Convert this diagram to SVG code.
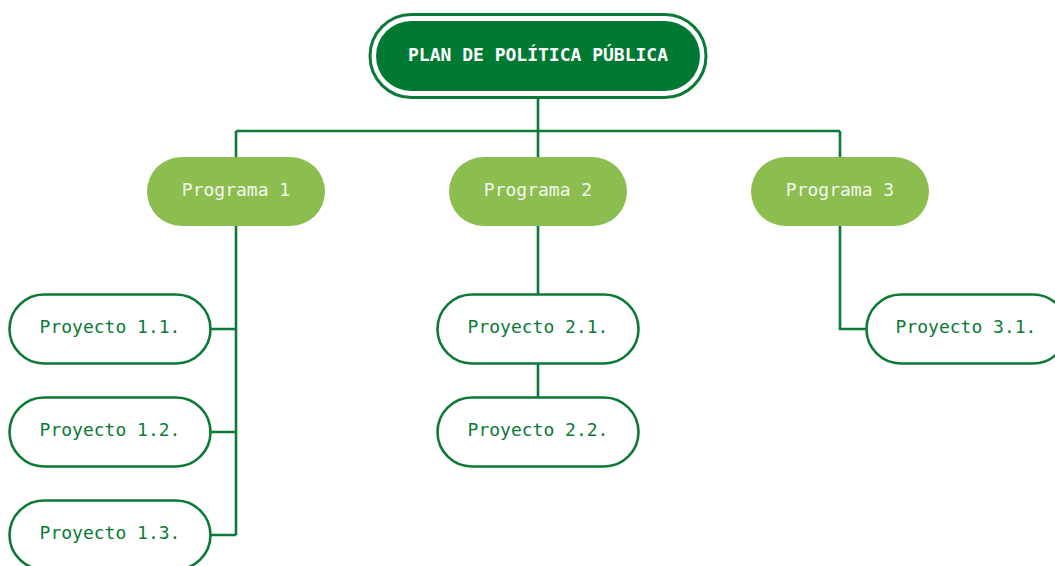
<svg xmlns="http://www.w3.org/2000/svg" width="1055" height="566" viewBox="0 0 1055 566">
  <style>
    .lbl { font-family: "DejaVu Sans Mono", "Liberation Mono", monospace; font-size: 18px; text-anchor: middle; }
    .title { fill: #ffffff; font-weight: bold; }
    .prog-box { fill: #8bbd4f; }
    .prog-txt { fill: #f4f8ee; }
    .proj-box { fill: #ffffff; stroke: #0b7a36; stroke-width: 2.6; }
    .proj-txt { fill: #0b7a36; }
    .wire { fill: none; stroke: #0b7a36; stroke-width: 2.6; }
  </style>
  <rect width="1055" height="566" fill="#ffffff"/>

  <!-- connectors -->
  <g id="connectors">
    <path class="wire" d="M538 97 V131 M236 131 H840 M236 131 V157 M538 131 V157 M840 131 V157"/>
    <path class="wire" d="M236 226 V535 M211 329 H236 M211 432 H236 M211 535 H236"/>
    <path class="wire" d="M538 226 V294 M538 364 V397"/>
    <path class="wire" d="M840 226 V329 H866"/>
  </g>

  <!-- root -->
  <g id="plan">
    <rect x="370" y="14.5" width="336" height="83" rx="41.5" fill="#ffffff" stroke="#0b7a36" stroke-width="3"/>
    <rect x="376" y="21" width="324" height="70" rx="35" fill="#007a33"/>
    <text class="lbl title" x="538" y="61">PLAN DE POLÍTICA PÚBLICA</text>
  </g>

  <!-- programs -->
  <g id="programa-1">
    <rect class="prog-box" x="147" y="157" width="178" height="69" rx="34.5"/>
    <text class="lbl prog-txt" x="236" y="196">Programa 1</text>
  </g>
  <g id="programa-2">
    <rect class="prog-box" x="449" y="157" width="178" height="69" rx="34.5"/>
    <text class="lbl prog-txt" x="538" y="196">Programa 2</text>
  </g>
  <g id="programa-3">
    <rect class="prog-box" x="751" y="157" width="178" height="69" rx="34.5"/>
    <text class="lbl prog-txt" x="840" y="196">Programa 3</text>
  </g>

  <!-- projects -->
  <g id="proyecto-1-1">
    <rect class="proj-box" x="9.5" y="294.5" width="201" height="69" rx="34.5"/>
    <text class="lbl proj-txt" x="110" y="333">Proyecto 1.1.</text>
  </g>
  <g id="proyecto-1-2">
    <rect class="proj-box" x="9.5" y="397.5" width="201" height="69" rx="34.5"/>
    <text class="lbl proj-txt" x="110" y="436">Proyecto 1.2.</text>
  </g>
  <g id="proyecto-1-3">
    <rect class="proj-box" x="9.5" y="500.5" width="201" height="69" rx="34.5"/>
    <text class="lbl proj-txt" x="110" y="539">Proyecto 1.3.</text>
  </g>
  <g id="proyecto-2-1">
    <rect class="proj-box" x="437.5" y="294.5" width="201" height="69" rx="34.5"/>
    <text class="lbl proj-txt" x="538" y="333">Proyecto 2.1.</text>
  </g>
  <g id="proyecto-2-2">
    <rect class="proj-box" x="437.5" y="397.5" width="201" height="69" rx="34.5"/>
    <text class="lbl proj-txt" x="538" y="436">Proyecto 2.2.</text>
  </g>
  <g id="proyecto-3-1">
    <rect class="proj-box" x="866.5" y="294.5" width="201" height="69" rx="34.5"/>
    <text class="lbl proj-txt" x="966" y="333">Proyecto 3.1.</text>
  </g>
</svg>
